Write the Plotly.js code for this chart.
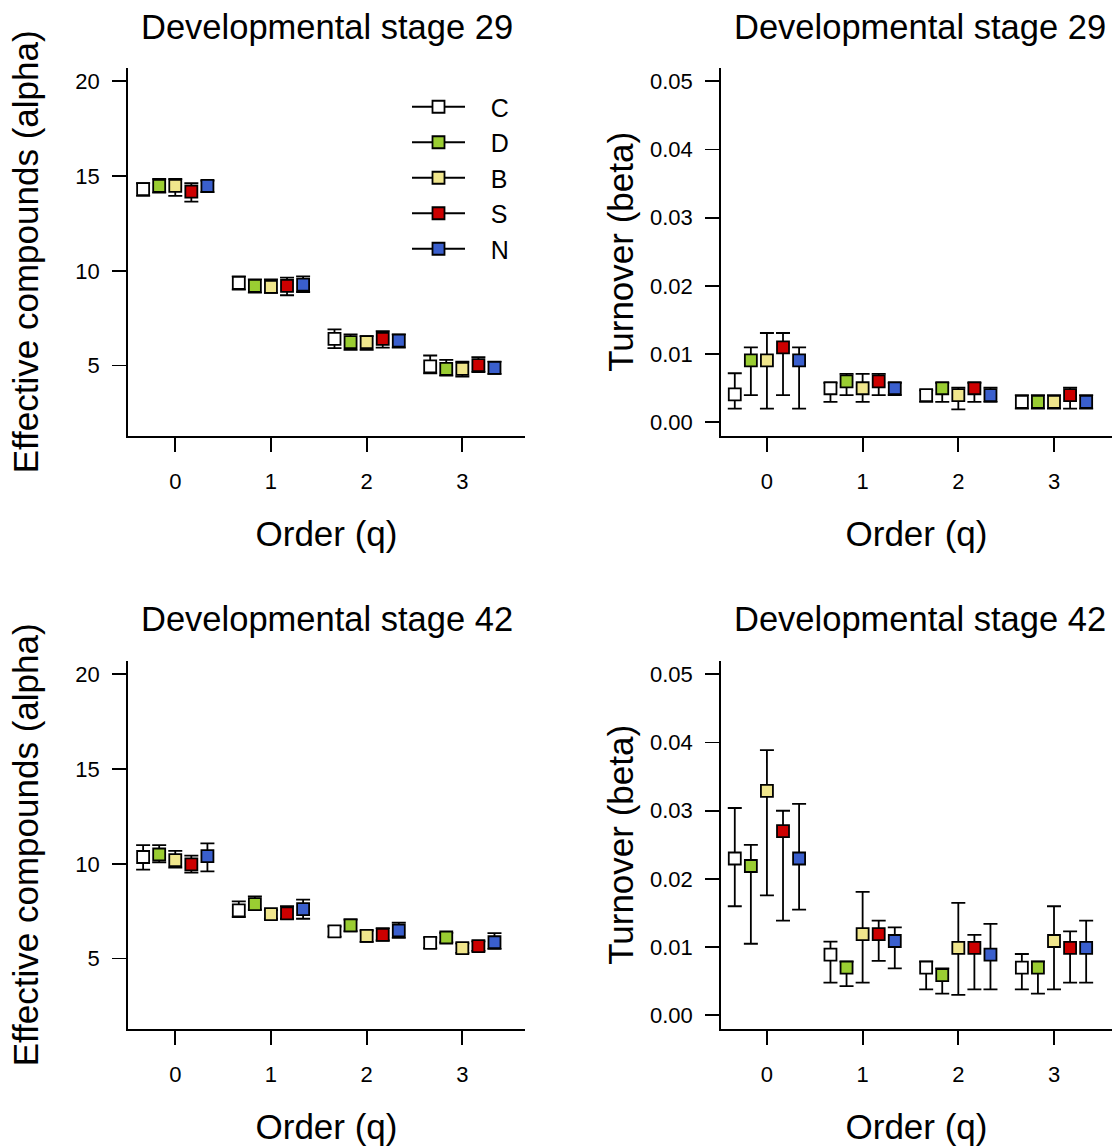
<!DOCTYPE html>
<html><head><meta charset="utf-8">
<script src="https://cdn.plot.ly/plotly-3.0.1.min.js"></script>
<style>html,body{margin:0;padding:0;background:#fff}#chart{width:1112px;height:1148px}</style>
</head><body><div id="chart"></div>
<script>
// ---------- data ----------
const orders = [0, 1, 2, 3];
const orderLabels = ['0', '1', '2', '3'];
const groups = ['C', 'D', 'B', 'S', 'N'];
const groupColors = ['#FFFFFF', '#9ACD32', '#F0E68C', '#CD0000', '#3A5FCD'];

const alphaTicks = [5, 10, 15, 20];
const betaTicks = [0.00, 0.01, 0.02, 0.03, 0.04, 0.05];

// Stage 29 - alpha (effective compounds)
const alpha29Mean = {C:[14.31,9.36,6.41,4.96], D:[14.48,9.20,6.24,4.82], B:[14.48,9.15,6.24,4.82], S:[14.18,9.20,6.41,5.02], N:[14.48,9.27,6.31,4.88]};
const alpha29Upper = {C:[14.62,9.71,6.91,5.53], D:[14.85,9.55,6.64,5.30], B:[14.85,9.55,6.55,5.21], S:[14.62,9.64,6.82,5.44], N:[14.76,9.71,6.64,5.21]};
const alpha29Lower = {C:[13.95,9.01,5.92,4.59], D:[14.13,8.85,5.83,4.47], B:[13.95,8.83,5.83,4.42], S:[13.65,8.71,5.94,4.65], N:[14.15,8.88,5.94,4.56]};

// Stage 29 - beta (turnover)
const beta29Mean = {C:[0.0041,0.0050,0.0040,0.0030], D:[0.0091,0.0060,0.0050,0.0030], B:[0.0091,0.0050,0.0040,0.0030], S:[0.0110,0.0060,0.0050,0.0040], N:[0.0091,0.0050,0.0040,0.0030]};
const beta29Upper = {C:[0.0072,0.0058,0.0047,0.0040], D:[0.0110,0.0071,0.0058,0.0040], B:[0.0131,0.0071,0.0051,0.0040], S:[0.0131,0.0071,0.0058,0.0051], N:[0.0110,0.0058,0.0051,0.0040]};
const beta29Lower = {C:[0.0020,0.0030,0.0030,0.0020], D:[0.0040,0.0040,0.0030,0.0020], B:[0.0020,0.0030,0.0019,0.0020], S:[0.0040,0.0040,0.0030,0.0020], N:[0.0020,0.0040,0.0030,0.0020]};

// Stage 42 - alpha
const alpha42Mean = {C:[10.36,7.54,6.43,5.83], D:[10.49,7.87,6.75,6.11], B:[10.19,7.34,6.20,5.55], S:[9.97,7.38,6.25,5.65], N:[10.40,7.61,6.48,5.86]};
const alpha42Upper = {C:[10.99,8.02,6.69,6.10], D:[10.99,8.28,7.06,6.35], B:[10.68,7.55,6.48,5.80], S:[10.43,7.77,6.60,5.90], N:[11.08,8.11,6.89,6.34]};
const alpha42Lower = {C:[9.69,7.19,6.16,5.55], D:[10.08,7.58,6.44,5.85], B:[9.80,7.10,5.88,5.30], S:[9.53,7.10,5.95,5.40], N:[9.60,7.10,6.09,5.51]};

// Stage 42 - beta
const beta42Mean = {C:[0.0230,0.0089,0.0070,0.0070], D:[0.0219,0.0070,0.0059,0.0070], B:[0.0329,0.0119,0.0099,0.0109], S:[0.0270,0.0119,0.0099,0.0099], N:[0.0230,0.0109,0.0089,0.0099]};
const beta42Upper = {C:[0.0304,0.0108,0.0079,0.0090], D:[0.0250,0.0079,0.0069,0.0079], B:[0.0389,0.0181,0.0165,0.0160], S:[0.0300,0.0139,0.0118,0.0123], N:[0.0310,0.0129,0.0134,0.0139]};
const beta42Lower = {C:[0.0160,0.0048,0.0038,0.0038], D:[0.0105,0.0043,0.0032,0.0032], B:[0.0176,0.0048,0.0030,0.0038], S:[0.0139,0.0080,0.0038,0.0048], N:[0.0155,0.0069,0.0038,0.0048]};

// ---------- drawing ----------
const FONT = 'Liberation Sans, Arial, Helvetica, sans-serif';
const DODGE = 0.168;
const W = 1112, H = 1148;
const NB = '\u00a0\u00a0\u00a0';
const traces = [];

function addPanel(xa, ya, mean, upper, lower) {
  groups.forEach((g, i) => {
    traces.push({
      type: 'scatter', mode: 'markers', xaxis: xa, yaxis: ya, showlegend: false, name: g,
      x: orders.map(q => q + (i - 2) * DODGE),
      y: mean[g],
      marker: {symbol: 'square', size: 12, color: groupColors[i], line: {color: '#000', width: 1.8}},
      error_y: {type: 'data', symmetric: false,
        array: upper[g].map((u, k) => u - mean[g][k]),
        arrayminus: mean[g].map((m, k) => m - lower[g][k]),
        color: '#000', thickness: 1.8, width: 7},
      cliponaxis: false
    });
  });
}
addPanel('x', 'y', alpha29Mean, alpha29Upper, alpha29Lower);
addPanel('x2', 'y2', beta29Mean, beta29Upper, beta29Lower);
addPanel('x3', 'y3', alpha42Mean, alpha42Upper, alpha42Lower);
addPanel('x4', 'y4', beta42Mean, beta42Upper, beta42Lower);

// legend entries (line + marker)
groups.forEach((g, i) => {
  traces.push({
    type: 'scatter', mode: 'lines+markers', xaxis: 'x', yaxis: 'y', name: NB + g, showlegend: true,
    x: [null], y: [null],
    line: {color: '#000', width: 1.8},
    marker: {symbol: 'square', size: 12, color: groupColors[i], line: {color: '#000', width: 1.8}}
  });
});

function xAxis(left, right, range, anchor) {
  return {
    domain: [left / W, right / W], range: range, anchor: anchor,
    tickmode: 'array', tickvals: orders, ticktext: orderLabels,
    ticks: 'outside', ticklen: 14, tickwidth: 1.8, tickcolor: '#000',
    showline: true, linecolor: '#000', linewidth: 1.8, mirror: false,
    showgrid: false, zeroline: false, fixedrange: true,
    tickfont: {family: FONT, size: 22, color: '#000'}, ticklabelstandoff: 11,
    title: {text: 'Order (q)', font: {family: FONT, size: 35, color: '#000'}, standoff: 28}
  };
}
function yAxis(top, bottom, range, ticks, fmt, anchor, title, standoff) {
  return {
    domain: [1 - bottom / H, 1 - top / H], range: range, anchor: anchor,
    tickmode: 'array', tickvals: ticks, ticktext: ticks.map(fmt),
    ticks: 'outside', ticklen: 14, tickwidth: 1.8, tickcolor: '#000',
    showline: true, linecolor: '#000', linewidth: 1.8, mirror: false,
    showgrid: false, zeroline: false, fixedrange: true,
    tickfont: {family: FONT, size: 22, color: '#000'}, ticklabelstandoff: 8,
    title: {text: title, font: {family: FONT, size: 35, color: '#000'}, standoff: standoff}
  };
}

const alphaRange = [1.28, 20.72];
const betaRange = [-0.002, 0.052];
const fmtA = v => String(v);
const fmtB = v => v.toFixed(2);

const TOP1 = 67.7, BOT1 = 436, TOP2 = 660.7, BOT2 = 1029;
const layout = {
  width: W, height: H,
  margin: {l: 0, r: 0, t: 0, b: 0},
  paper_bgcolor: '#fff', plot_bgcolor: 'rgba(0,0,0,0)',
  font: {family: FONT, color: '#000'},
  showlegend: true,
  legend: {x: 407 / W, y: 1 - 84 / H, xanchor: 'left', yanchor: 'top',
    bgcolor: 'rgba(0,0,0,0)', borderwidth: 0, itemwidth: 53,
    font: {family: FONT, size: 25, color: '#000'}, tracegroupgap: 0},
  xaxis: xAxis(128, 525, [-0.494, 3.655], 'y'),
  yaxis: yAxis(TOP1, BOT1, alphaRange, alphaTicks, fmtA, 'x', 'Effective compounds (alpha)', 26),
  xaxis2: xAxis(721, 1112, [-0.48, 3.606], 'y2'),
  yaxis2: yAxis(TOP1, BOT1, betaRange, betaTicks, fmtB, 'x2', 'Turnover (beta)', 6),
  xaxis3: xAxis(128, 525, [-0.494, 3.655], 'y3'),
  yaxis3: yAxis(TOP2, BOT2, alphaRange, alphaTicks, fmtA, 'x3', 'Effective compounds (alpha)', 26),
  xaxis4: xAxis(721, 1112, [-0.48, 3.606], 'y4'),
  yaxis4: yAxis(TOP2, BOT2, betaRange, betaTicks, fmtB, 'x4', 'Turnover (beta)', 6),
  annotations: [
    {text: 'Developmental stage 29', x: 326.5 / W, y: 1 - 27 / H},
    {text: 'Developmental stage 29', x: 919.5 / W, y: 1 - 27 / H},
    {text: 'Developmental stage 42', x: 326.5 / W, y: 1 - 619 / H},
    {text: 'Developmental stage 42', x: 919.5 / W, y: 1 - 619 / H}
  ].map(a => Object.assign(a, {xref: 'paper', yref: 'paper', xanchor: 'center', yanchor: 'middle',
    showarrow: false, font: {family: FONT, size: 34.5, color: '#000'}}))
};

Plotly.newPlot('chart', traces, layout, {staticPlot: true, displayModeBar: false});
</script>
</body></html>
